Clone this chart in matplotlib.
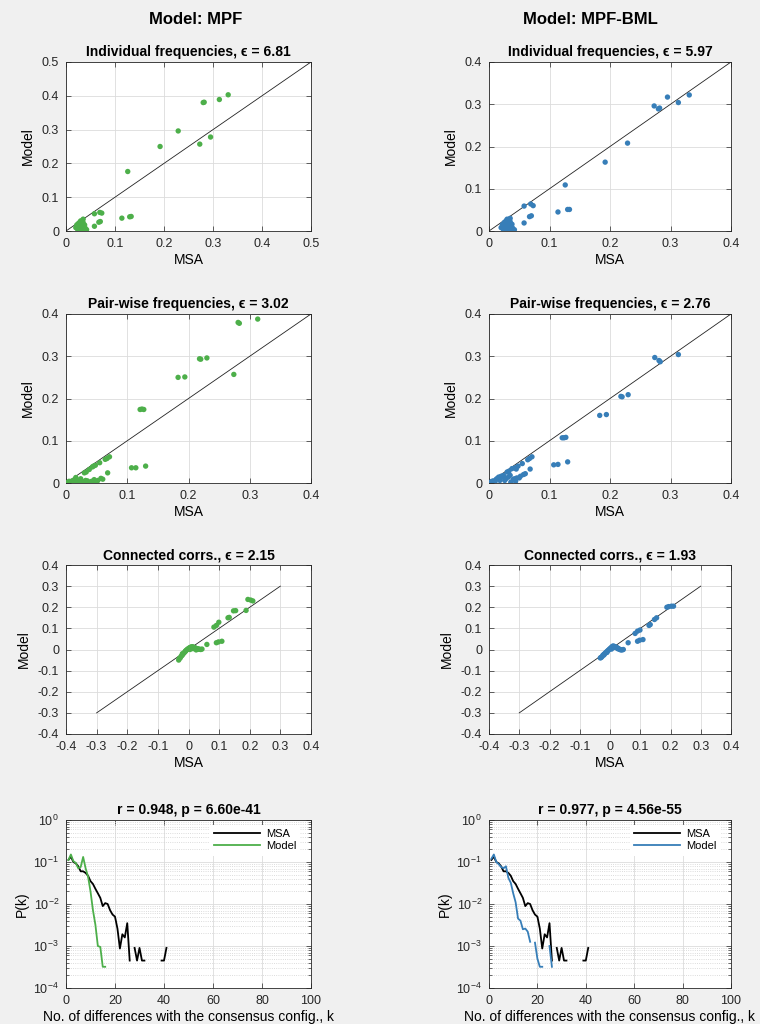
import numpy as np
import matplotlib
matplotlib.use("Agg")
import matplotlib.pyplot as plt
from matplotlib.ticker import FuncFormatter, LogLocator

plt.rcParams['font.family'] = ['Liberation Sans', 'DejaVu Sans']
plt.rcParams['axes.unicode_minus'] = False

GREEN = '#4daf4a'
BLUE = '#377eb8'

# single-site frequencies (MSA vs model)
freq_msa = [0.331, 0.313, 0.295, 0.273, 0.282, 0.280, 0.229, 0.192, 0.126, 0.114, 0.130, 0.133,
            0.058, 0.069, 0.073, 0.067, 0.070, 0.058,
            0.020, 0.022, 0.024, 0.025, 0.026, 0.027, 0.028, 0.029, 0.030, 0.031, 0.032, 0.033,
            0.034, 0.035, 0.036, 0.037, 0.038, 0.040, 0.042, 0.023, 0.027, 0.031, 0.035, 0.039, 0.030]
freq_mpf = [0.403, 0.389, 0.278, 0.257, 0.381, 0.380, 0.296, 0.250, 0.176, 0.038, 0.042, 0.043,
            0.051, 0.055, 0.053, 0.026, 0.028, 0.014,
            0.010, 0.018, 0.004, 0.022, 0.012, 0.002, 0.026, 0.008, 0.030, 0.015, 0.001, 0.020,
            0.006, 0.035, 0.012, 0.003, 0.018, 0.002, 0.004, 0.014, 0.020, 0.005, 0.025, 0.009, 0.001]
freq_bml = [0.322, 0.304, 0.317, 0.296, 0.291, 0.289, 0.208, 0.163, 0.109, 0.045, 0.051, 0.051,
            0.059, 0.064, 0.060, 0.034, 0.036, 0.019,
            0.008, 0.015, 0.003, 0.020, 0.010, 0.002, 0.024, 0.006, 0.028, 0.012, 0.001, 0.018,
            0.004, 0.030, 0.010, 0.002, 0.016, 0.001, 0.003, 0.012, 0.018, 0.004, 0.022, 0.007, 0.000]

# pair-wise frequencies
pair_msa = [0.313, 0.281, 0.283, 0.274, 0.230, 0.218, 0.220, 0.183, 0.194, 0.121, 0.124, 0.127,
            0.130, 0.107, 0.114, 0.068,
            0.071, 0.064, 0.067, 0.048, 0.043, 0.045, 0.033, 0.030, 0.016, 0.005, 0.055, 0.038,
            0.057, 0.052, 0.046, 0.040, 0.035, 0.028, 0.022, 0.018, 0.012, 0.008, 0.003, 0.001,
            0.060, 0.050, 0.044, 0.036, 0.026, 0.020, 0.014, 0.010, 0.006, 0.024, 0.042, 0.032]
pair_mpf = [0.388, 0.380, 0.378, 0.257, 0.296, 0.294, 0.293, 0.250, 0.251, 0.174, 0.175, 0.174,
            0.040, 0.036, 0.036, 0.024,
            0.062, 0.056, 0.058, 0.042, 0.038, 0.040, 0.026, 0.024, 0.013, 0.004, 0.048, 0.032,
            0.011, 0.006, 0.008, 0.002, 0.005, 0.003, 0.007, 0.001, 0.004, 0.002, 0.001, 0.000,
            0.009, 0.003, 0.001, 0.000, 0.001, 0.004, 0.008, 0.005, 0.002, 0.010, 0.004, 0.006]
pair_bml = [0.304, 0.290, 0.287, 0.297, 0.209, 0.205, 0.204, 0.160, 0.162, 0.107, 0.107, 0.108,
            0.050, 0.043, 0.044, 0.033,
            0.062, 0.055, 0.058, 0.040, 0.036, 0.033, 0.028, 0.026, 0.014, 0.004, 0.046, 0.034,
            0.020, 0.016, 0.012, 0.008, 0.018, 0.010, 0.014, 0.006, 0.009, 0.005, 0.002, 0.001,
            0.022, 0.012, 0.004, 0.002, 0.006, 0.016, 0.011, 0.003, 0.004, 0.018, 0.010, 0.014]

# connected correlations
cc_msa = [0.194, 0.203, 0.210, 0.188, 0.147, 0.154, 0.129, 0.133, 0.099, 0.083, 0.091, 0.109,
          0.091, 0.098, 0.060,
          -0.032, -0.030, -0.027, -0.024, -0.021, -0.018, -0.015, -0.012, -0.009, -0.006, -0.003,
          0.000, 0.003, 0.006, 0.009, 0.012, 0.015, 0.018, 0.021, 0.024, 0.027, 0.030, 0.033,
          0.036, 0.040, 0.044, -0.020, -0.010, 0.005, 0.015, 0.025]
cc_mpf = [0.237, 0.234, 0.230, 0.185, 0.183, 0.184, 0.150, 0.152, 0.129, 0.106, 0.114, 0.039,
          0.032, 0.036, 0.024,
          -0.050, -0.042, -0.040, -0.032, -0.028, -0.022, -0.016, -0.012, -0.006, -0.002, 0.002,
          0.004, 0.008, 0.010, 0.012, 0.013, 0.012, 0.010, 0.008, 0.006, 0.004, 0.003, 0.002,
          0.001, 0.000, 0.002, -0.020, -0.008, 0.000, 0.004, -0.002]
cc_bml = [0.203, 0.205, 0.205, 0.200, 0.142, 0.150, 0.114, 0.118, 0.092, 0.076, 0.087, 0.047,
          0.039, 0.044, 0.032,
          -0.040, -0.038, -0.035, -0.028, -0.024, -0.020, -0.016, -0.012, -0.008, -0.004, 0.000,
          0.004, 0.008, 0.012, 0.016, 0.016, 0.014, 0.012, 0.010, 0.008, 0.005, 0.002, 0.000,
          -0.002, -0.002, 0.000, -0.026, -0.014, 0.002, 0.010, 0.004]

# P(k), distance from consensus
nan = np.nan
k_msa = list(range(1, 42))
pk_msa = [0.112, 0.135, 0.100, 0.093, 0.079, 0.060, 0.060, 0.055, 0.047, 0.035,
          0.030, 0.023, 0.018, 0.014, 0.0089, 0.0105, 0.010, 0.0071, 0.0056, 0.0050,
          0.0026, 0.00087, 0.0019, 0.0016, 0.0035, 0.00045, nan, 0.0009, 0.00045, 0.0009,
          0.00045, 0.00045, nan, nan, nan, nan, nan, nan, 0.00045, 0.00045, 0.0009]
k_mpf = list(range(1, 17))
pk_mpf = [0.112, 0.151, 0.105, 0.095, 0.071, 0.076, 0.132, 0.071, 0.045, 0.020,
          0.0071, 0.0032, 0.0010, 0.00095, 0.00032, 0.00032]
k_bml = list(range(1, 27))
pk_bml = [0.120, 0.151, 0.100, 0.089, 0.076, 0.071, 0.079, 0.042, 0.032, 0.018,
          0.011, 0.0045, 0.0040, 0.0025, 0.0026, 0.0022, 0.00126, nan, 0.0012, 0.0005,
          0.00032, 0.00032, nan, nan, 0.0010, 0.00032]

col_titles = ['Model: MPF', 'Model: MPF-BML']
eps_freq = ['6.81', '5.97']
eps_pair = ['3.02', '2.76']
eps_cc = ['2.15', '1.93']
r_text = ['r = 0.948, p = 6.60e-41', 'r = 0.977, p = 4.56e-55']
colors = [GREEN, BLUE]
model_freq = [freq_mpf, freq_bml]
model_pair = [pair_mpf, pair_bml]
model_cc = [cc_mpf, cc_bml]
k_model = [k_mpf, k_bml]
pk_model = [pk_mpf, pk_bml]
freq_lim = [0.5, 0.4]

W, H = 760, 1024
fig = plt.figure(figsize=(W / 100, H / 100), dpi=100, facecolor='#f0f0f0')

col_x = [(66, 245), (489, 242)]
row_y = [(62, 231), (314, 483), (565, 734), (820, 988)]
fmt = FuncFormatter(lambda v, p: '%g' % (round(v, 4) + 0.0))


def make_ax(c, r):
    x0, w = col_x[c]
    t, b = row_y[r]
    ax = fig.add_axes([x0 / W, 1 - b / H, w / W, (b - t) / H])
    ax.set_facecolor('white')
    for s in ax.spines.values():
        s.set_color('#262626')
        s.set_linewidth(0.6)
    ax.tick_params(direction='in', top=True, right=True, length=3.5, width=0.5,
                   labelsize=9, colors='#262626', pad=5)
    ax.tick_params(which='minor', direction='in', top=True, right=True, length=2, width=0.4)
    ax.grid(True, color='#dcdcdc', linewidth=0.6)
    ax.set_axisbelow(True)
    return ax


def scatter_panel(ax, x, y, color, lo, hi, dlo, dhi, title):
    ax.plot([dlo, dhi], [dlo, dhi], color='#222222', lw=0.6, zorder=2)
    ax.scatter(x, y, s=15, color=color, edgecolors='none', zorder=3)
    ax.set_xlim(lo, hi)
    ax.set_ylim(lo, hi)
    ticks = np.round(np.arange(lo, hi + 1e-9, 0.1), 2)
    ax.set_xticks(ticks)
    ax.set_yticks(ticks)
    ax.xaxis.set_major_formatter(fmt)
    ax.yaxis.set_major_formatter(fmt)
    ax.set_title(title, fontsize=10, fontweight='bold', pad=4)
    ax.set_xlabel('MSA', fontsize=10, labelpad=2)
    ax.set_ylabel('Model', fontsize=10, labelpad=5)


for c in range(2):
    fig.text([196, 590][c] / W, 1 - 20 / H, col_titles[c], ha='center', va='center',
             fontsize=12, fontweight='bold')

    ax = make_ax(c, 0)
    lim = freq_lim[c]
    scatter_panel(ax, freq_msa, model_freq[c], colors[c], 0, lim, 0, lim,
                  'Individual frequencies, ϵ = ' + eps_freq[c])

    ax = make_ax(c, 1)
    scatter_panel(ax, pair_msa, model_pair[c], colors[c], 0, 0.4, 0, 0.4,
                  'Pair-wise frequencies, ϵ = ' + eps_pair[c])

    ax = make_ax(c, 2)
    scatter_panel(ax, cc_msa, model_cc[c], colors[c], -0.4, 0.4, -0.3, 0.3,
                  'Connected corrs., ϵ = ' + eps_cc[c])

    ax = make_ax(c, 3)
    ax.plot(k_msa, pk_msa, color='black', lw=1.3, label='MSA')
    ax.plot(k_model[c], pk_model[c], color=colors[c], lw=1.3, label='Model')
    ax.set_yscale('log')
    ax.set_xlim(0, 100)
    ax.set_ylim(1e-4, 1)
    ax.set_xticks([0, 20, 40, 60, 80, 100])
    ax.yaxis.set_major_locator(LogLocator(base=10, numticks=10))
    ax.yaxis.set_minor_locator(LogLocator(base=10, subs=np.arange(2, 10), numticks=20))
    ax.grid(True, which='minor', axis='y', color='#d0d0d0', linestyle=':', linewidth=0.6)
    ax.set_title(r_text[c], fontsize=10, fontweight='bold', pad=4)
    ax.set_xlabel('No. of differences with the consensus config., k', fontsize=10, labelpad=2)
    ax.set_ylabel('P(k)', fontsize=10, labelpad=3)
    leg = ax.legend(loc='upper right', bbox_to_anchor=(0.957, 0.972), borderaxespad=0,
                    fontsize=8, handlelength=4.1, frameon=True,
                    labelspacing=0.2, handletextpad=0.55)
    leg.get_frame().set_edgecolor('none')
    leg.get_frame().set_facecolor('white')
    leg.get_frame().set_alpha(1)

fig.savefig('out.png', dpi=100, facecolor=fig.get_facecolor())
